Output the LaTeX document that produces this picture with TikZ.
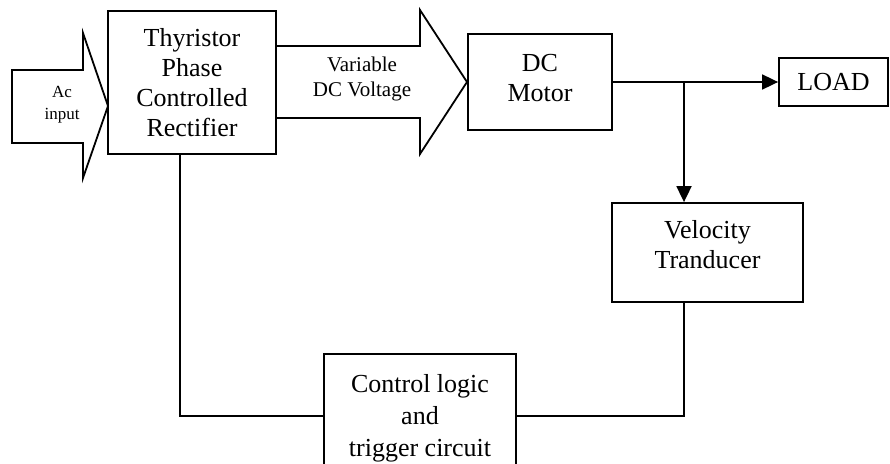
\documentclass[tikz,border=0pt]{standalone}
\usepackage{fontspec}
\setmainfont{Liberation Serif}
\usetikzlibrary{arrows.meta}
\begin{document}
\begin{tikzpicture}[x=1pt,y=-1pt,line width=1.8pt,
  box/.style={draw,line width=1.8pt,inner sep=0pt},
  lbl/.style={align=center,inner sep=0pt,font=\fontsize{26}{30}\selectfont},
  conn/.style={line width=1.8pt},
  arr/.style={conn,-{Triangle[length=16pt,width=15pt]}},
  fat/.style={draw,line width=1.8pt,line join=miter}]
\useasboundingbox (0,0) rectangle (890,463);
\clip (0,0) rectangle (890,463);
% blocks
\node[box,minimum width=168pt,minimum height=143pt] (rect) at (192,82.5) {};
\node[lbl] (rectt) at (192,82.5) {Thyristor\\Phase\\Controlled\\Rectifier};
\node[box,minimum width=144pt,minimum height=96pt] (motor) at (540,82) {};
\node[lbl] (motort) at (540,78) {DC\\Motor};
\node[box,minimum width=109pt,minimum height=48pt] (load) at (833.5,82) {};
\node[lbl] (loadt) at (833.5,82) {LOAD};
\node[box,minimum width=191pt,minimum height=99pt] (vel) at (707.5,252.5) {};
\node[lbl] (velt) at (707.5,245) {Velocity\\Tranducer};
\node[box,minimum width=192pt,minimum height=124pt] (ctrl) at (420,416) {};
\node[lbl,font=\fontsize{26}{32}\selectfont] (ctrlt) at (420,418) {Control logic\\and\\trigger circuit};
% fat arrows
\draw[fat] (12,70) -- (83,70) -- (83,33) -- (108,106) -- (83,178) -- (83,143) -- (12,143) -- cycle;
\node[font=\fontsize{17}{22}\selectfont,align=center] (ac) at (62,105) {Ac\\input};
\draw[fat] (276,46) -- (420,46) -- (420,10) -- (467,82) -- (420,154) -- (420,118) -- (276,118);
\node[font=\fontsize{21}{25}\selectfont,align=center] (vdc) at (362,79) {Variable\\DC Voltage};
% connectors
\draw[arr] (motor.east) -- (load.west);
\coordinate (br) at (684,82);
\draw[arr] (br) -- (br |- vel.north);
\coordinate (rdown) at (180,0);
\draw[conn] (rdown |- rect.south) |- (ctrl.west);
\draw[conn] (br |- vel.south) |- (ctrl.east);
\end{tikzpicture}
\end{document}
